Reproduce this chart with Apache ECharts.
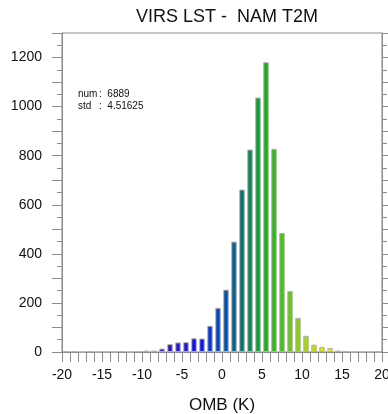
<!DOCTYPE html>
<html>
<head>
<meta charset="utf-8">
<script src="https://cdn.jsdelivr.net/npm/echarts@6/dist/echarts.min.js"></script>
<style>html,body{margin:0;padding:0;background:#fff;}#c{width:388px;height:414px;}</style>
</head>
<body>
<div id="c"></div>
<script>
var binCenters = [-19.5,-18.5,-17.5,-16.5,-15.5,-14.5,-13.5,-12.5,-11.5,-10.5,-9.5,-8.5,-7.5,-6.5,-5.5,-4.5,-3.5,-2.5,-1.5,-0.5,0.5,1.5,2.5,3.5,4.5,5.5,6.5,7.5,8.5,9.5,10.5,11.5,12.5,13.5,14.5,15.5,16.5,17.5,18.5,19.5];
var counts = [3,3,0,2,0,0,0,3,0,3,6,6,14,32,39,40,56,55,107,180,254,450,662,825,1037,1181,828,485,248,139,66,30,20,16,6,2,0,0,0,0];
var barColors = ['#a8a0b0','#a8a0b0','#a8a0b0','#a098b0','#9888b0','#8878b0','#7060a8','#5a2a90','#5424a0','#50209a','#4818a8','#4010b0','#3810c0','#3010cc','#2818d8','#2018e0','#1010f0','#0c18f0','#0838d8','#0848c0','#0850a8','#0a6090','#0a7070','#0a8850','#10a030','#18b020','#30b818','#48c018','#68c818','#88d010','#a8d808','#c0e000','#d8e800','#e8e800','#c8b070','#a09080','#a09080','#a09080','#a09080','#a09080'];
var xTicks = [-20,-15,-10,-5,0,5,10,15,20];
var yTicks = [0,200,400,600,800,1000,1200];
var titleText = 'VIRS LST -  NAM T2M';
var xName = 'OMB (K)';
var statLabels = ['num', 'std'];
var statValues = ['6889', '4.51625'];

var data = binCenters.map(function(x, i){
  return {value:[x, counts[i]], itemStyle:{color: barColors[i]}};
});

var chart = echarts.init(document.getElementById('c'), null, {renderer:'canvas'});
var font = 'Liberation Sans, Arial, Helvetica, sans-serif';
var axisCol = '#8a8a8a';
chart.setOption({
  animation:false,
  title:{text:titleText, left:222, top:3, textAlign:'center',
    textStyle:{fontFamily:font, fontSize:18, fontWeight:'normal', color:'#111'}},
  grid:{left:62, right:6, top:33, bottom:62, show:true, borderColor:axisCol, borderWidth:1, backgroundColor:'transparent', containLabel:false, outerBoundsMode:'none'},
  xAxis:{type:'value', min:-20, max:20, interval:5,
    name:xName, nameLocation:'middle', nameGap:45,
    nameTextStyle:{fontFamily:font, fontSize:17, color:'#111'},
    axisLine:{show:true, onZero:false, lineStyle:{color:axisCol}},
    axisTick:{show:true, length:10, lineStyle:{color:axisCol}},
    minorTick:{show:true, splitNumber:5, length:10, lineStyle:{color:axisCol}},
    splitLine:{show:false},
    axisLabel:{margin:16, fontFamily:font, fontSize:14, color:'#111',
      formatter:function(v){return xTicks.indexOf(v)>=0 ? String(v) : '';}}
  },
  yAxis:[{type:'value', min:0, max:1300, interval:100, position:'left',
    axisLine:{show:true, onZero:false, lineStyle:{color:axisCol}},
    axisTick:{show:true, length:10, lineStyle:{color:axisCol}},
    minorTick:{show:true, splitNumber:2, length:5, lineStyle:{color:axisCol}},
    splitLine:{show:false},
    axisLabel:{margin:20, fontFamily:font, fontSize:14, color:'#111',
      formatter:function(v){return yTicks.indexOf(v)>=0 ? String(v) : '';}}
  },{type:'value', min:0, max:1300, interval:100, position:'right',
    axisLine:{show:true, onZero:false, lineStyle:{color:axisCol}},
    axisTick:{show:true, length:10, lineStyle:{color:axisCol}},
    minorTick:{show:true, splitNumber:2, length:5, lineStyle:{color:axisCol}},
    splitLine:{show:false},
    axisLabel:{show:false}
  }],
  series:[{type:'bar', data:data, barWidth:5.5, xAxisIndex:0, yAxisIndex:0,
    itemStyle:{borderColor:'#b0b0b0', borderWidth:1}}],
  graphic:[
    {type:'text', left:78, top:89, style:{text:statLabels[0], font:'10px '+font, fill:'#111'}},
    {type:'text', left:78, top:101, style:{text:statLabels[1], font:'10px '+font, fill:'#111'}},
    {type:'text', left:99, top:89, style:{text:':  '+statValues[0], font:'10px '+font, fill:'#111'}},
    {type:'text', left:99, top:101, style:{text:':  '+statValues[1], font:'10px '+font, fill:'#111'}}
  ]
});
</script>
</body>
</html>
